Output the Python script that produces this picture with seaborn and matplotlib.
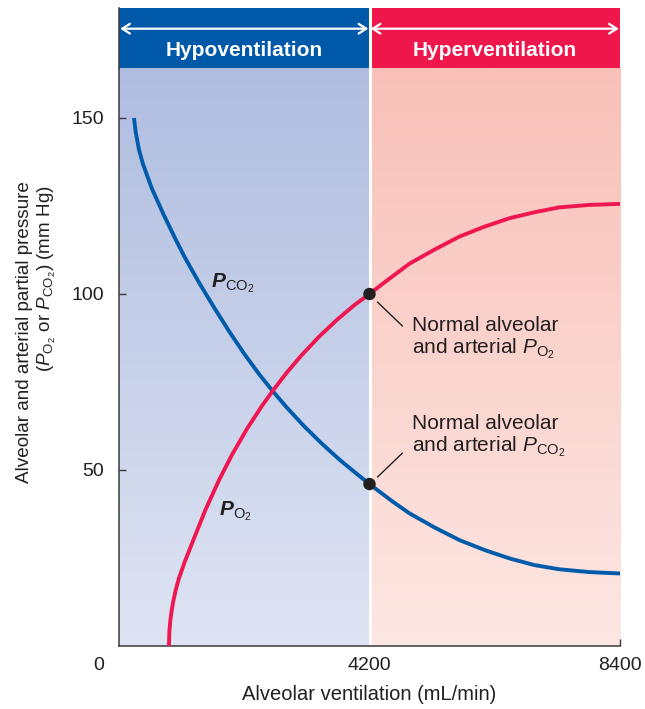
import numpy as np
import matplotlib
matplotlib.use("Agg")
import matplotlib.pyplot as plt
import seaborn as sns

# curves (mL/min, mm Hg)
pco2_x = [251, 280, 335, 400, 550, 750, 950, 1100, 1350, 1600, 1850, 2100, 2350, 2583,
          2800, 3100, 3400, 3700, 3950, 4200, 4590, 4869, 5288, 5706, 6124, 6543,
          6961, 7380, 7881, 8400]
pco2_y = [150.0, 146.0, 141.0, 137.0, 130.0, 122.5, 115.5, 110.5, 103.0, 96.0, 89.3, 83.0,
          77.2, 72.3, 68.0, 62.5, 57.5, 52.9, 49.4, 46.0, 41.0, 37.7, 33.7, 30.1,
          27.3, 24.9, 23.0, 21.8, 21.0, 20.6]

po2_x = [837, 845, 860, 880, 910, 950, 1000, 1100, 1244, 1450, 1679, 1900, 2150, 2400,
         2583, 2800, 3050, 3350, 3650, 3950, 4200, 4451, 4869, 5288, 5706, 6124,
         6543, 6961, 7380, 7881, 8400]
po2_y = [0.0, 4.2, 7.1, 9.7, 12.7, 15.8, 19.0, 23.8, 30.0, 38.7, 47.2, 54.5, 61.8, 68.3,
         72.6, 77.4, 82.4, 87.8, 92.6, 96.9, 100.0, 103.3, 108.6, 112.6, 116.3, 119.1,
         121.5, 123.2, 124.6, 125.3, 125.6]

normal_x = [4200, 4200]
normal_y = [100, 46]

x_ticks = [4200, 8400]
y_ticks = [50, 100, 150]
regions = ["Hypoventilation", "Hyperventilation"]

sns.set_style("ticks")
plt.rcParams["font.family"] = ["Liberation Sans", "DejaVu Sans"]
plt.rcParams["mathtext.fontset"] = "custom"
plt.rcParams["mathtext.rm"] = "Liberation Sans"
plt.rcParams["mathtext.it"] = "Liberation Sans:italic"
plt.rcParams["mathtext.bf"] = "Liberation Sans:bold"
plt.rcParams["mathtext.bfit"] = "Liberation Sans:italic:bold"

text_col = "#231f20"
blue = "#0058a9"
red = "#ef164c"
ytop = 164.2

fig = plt.figure(figsize=(6.45, 7.09), dpi=100)
ax = fig.add_axes([119 / 645, 63 / 709, 501 / 645, 578 / 709])
axh = fig.add_axes([119 / 645, (709 - 68) / 709, 501 / 645, 60 / 709])

# shaded backgrounds (vertical gradients)
g = np.linspace(0, 1, 256)[:, None, None]
left_top = np.array([176, 189, 224]) / 255
left_bot = np.array([222, 228, 243]) / 255
right_top = np.array([248, 192, 184]) / 255
right_bot = np.array([253, 231, 227]) / 255
ax.imshow(left_top * (1 - g) + left_bot * g, extent=[0, 4200, 0, ytop],
          aspect="auto", zorder=0, interpolation="bilinear")
ax.imshow(right_top * (1 - g) + right_bot * g, extent=[4200, 8400, 0, ytop],
          aspect="auto", zorder=0, interpolation="bilinear")
ax.axvline(4200, color="white", lw=2.2, zorder=1)

sns.lineplot(x=pco2_x, y=pco2_y, ax=ax, color="#005bab", lw=2.8, sort=False,
             estimator=None, zorder=3, solid_capstyle="butt", solid_joinstyle="round")
sns.lineplot(x=po2_x, y=po2_y, ax=ax, color="#ee1750", lw=2.8, sort=False,
             estimator=None, zorder=3, solid_capstyle="butt", solid_joinstyle="round")
sns.scatterplot(x=normal_x, y=normal_y, ax=ax, s=80, color=text_col,
                edgecolor="none", zorder=5)

ax.set_xlim(0, 8400)
ax.set_ylim(0, ytop)
ax.set_xticks(x_ticks)
ax.set_yticks(y_ticks)
ax.tick_params(direction="in", length=5, width=1, colors="#3a3a3a",
               labelcolor=text_col, labelsize=14)
ax.tick_params(axis="x", pad=8)
ax.tick_params(axis="y", pad=11)
sns.despine(ax=ax)
for s in ["left", "bottom"]:
    ax.spines[s].set_color("#3a3a3a")
    ax.spines[s].set_linewidth(1.1)

# curve labels
ax.text(1539, 102, r"$\mathbfit{P}_{\mathrm{CO_2}}$", fontsize=15,
        color=text_col, va="baseline", ha="left")
ax.text(1673, 37.2, r"$\mathbfit{P}_{\mathrm{O_2}}$", fontsize=15,
        color=text_col, va="baseline", ha="left")

# normal value callouts
ax.annotate("", xy=(4334, 97.7), xytext=(4752, 90.9),
            arrowprops=dict(arrowstyle="-", color=text_col, lw=1,
                            shrinkA=0, shrinkB=0))
ax.annotate("", xy=(4334, 48.0), xytext=(4752, 54.8),
            arrowprops=dict(arrowstyle="-", color=text_col, lw=1,
                            shrinkA=0, shrinkB=0))
ax.text(4920, 87.4, "Normal alveolar\nand arterial $\\mathit{P}_{\\mathrm{O_2}}$",
        fontsize=15, color=text_col, va="center", ha="left", linespacing=1.1)
ax.text(4920, 59.5, "Normal alveolar\nand arterial $\\mathit{P}_{\\mathrm{CO_2}}$",
        fontsize=15, color=text_col, va="center", ha="left", linespacing=1.1)

# header band
axh.set_xlim(0, 8400)
axh.set_ylim(0, 1)
axh.axvspan(0, 4200, color=blue, lw=0)
axh.axvspan(4200, 8400, color=red, lw=0)
axh.axvline(4200, color="white", lw=2.2)
for x0, x1, name in [(0, 4200, regions[0]), (4200, 8400, regions[1])]:
    axh.annotate("", xy=(x0 + 20, 0.655), xytext=(x1 - 20, 0.655),
                 arrowprops=dict(arrowstyle="<->,head_length=0.55,head_width=0.35",
                                 color="white", lw=1.6, shrinkA=0, shrinkB=0))
    axh.text((x0 + x1) / 2, 0.29, name, color="white", fontsize=15,
             fontweight="bold", ha="center", va="center")
axh.set_xticks([])
axh.set_yticks([])
for s in ["top", "right", "bottom"]:
    axh.spines[s].set_visible(False)
axh.spines["left"].set_color("#3a3a3a")
axh.spines["left"].set_linewidth(1.1)

# axis labels
fig.text(99 / 645, 1 - 666 / 709, "0", fontsize=14, color=text_col,
         ha="center", va="center")
fig.text(369 / 645, 1 - 694 / 709, "Alveolar ventilation (mL/min)", fontsize=14.5,
         color=text_col, ha="center", va="center")
fig.text(25 / 645, 1 - 332 / 709, "Alveolar and arterial partial pressure",
         fontsize=13.6, color=text_col, ha="center", va="center", rotation=90)
fig.text(47 / 645, 1 - 279 / 709,
         r"($\mathit{P}_{\mathrm{O_2}}$ or $\mathit{P}_{\mathrm{CO_2}}$) (mm Hg)",
         fontsize=13.6, color=text_col, ha="center", va="center", rotation=90)

fig.savefig("out.png", dpi=100)
